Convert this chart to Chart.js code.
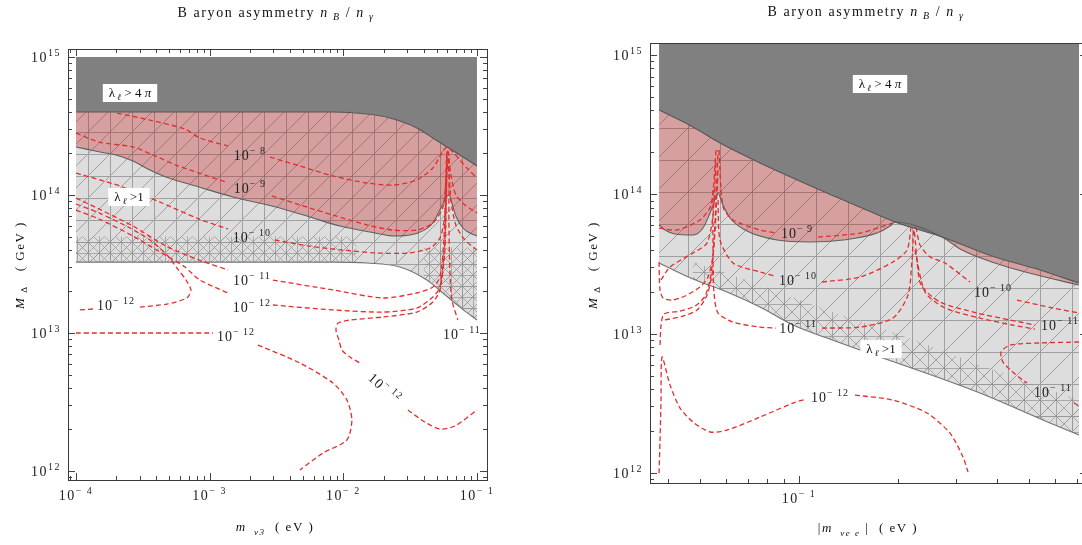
<!DOCTYPE html>
<html>
<head>
<meta charset="utf-8">
<title>Baryon asymmetry</title>
<script src="https://cdn.jsdelivr.net/npm/chart.js@4.4.1/dist/chart.umd.min.js"></script>
<style>
  html, body { margin: 0; padding: 0; background: #fff; overflow: hidden; }
  body { width: 1082px; height: 545px; position: relative; }
  canvas { position: absolute; top: 0; }
  #leftChart { left: 0; }
  #rightChart { left: 560px; }
</style>
</head>
<body>
<canvas id="leftChart" width="540" height="545"></canvas>
<canvas id="rightChart" width="540" height="545"></canvas>
<script>
// all points are [log10 m (eV), log10 M_Delta (GeV)]

// ---- left panel: m_nu3 ----
const leftTop = [[-4, 15], [-1, 15]];
const leftPerturbEdge = [[-4, 14.601], [-2.078, 14.601], [-1.823, 14.587], [-1.651, 14.558], [-1.450, 14.486],
  [-1.330, 14.413], [-1.225, 14.348], [-1.128, 14.290], [-1, 14.210]];
const leftBaryonEdge = [[-4, 14.348], [-3.820, 14.312], [-3.701, 14.290], [-3.574, 14.246], [-3.447, 14.181],
  [-3.327, 14.130], [-3.080, 14.058], [-2.826, 13.986], [-2.504, 13.913], [-2.250, 13.841], [-2.025, 13.775],
  [-1.801, 13.732], [-1.614, 13.703], [-1.442, 13.725], [-1.337, 13.790], [-1.270, 13.906], [-1.233, 13.978],
  [-1.210, 14.0], [-1.188, 13.942], [-1.158, 13.848], [-1.105, 13.761], [-1.053, 13.725], [-1, 13.703]];
const leftUnitEdge = [[-4, 13.514], [-2.078, 13.514], [-1.823, 13.507], [-1.577, 13.478], [-1.375, 13.384],
  [-1.255, 13.290], [-1.128, 13.188], [-1, 13.094]];
// finer mesh patches inside the lambda > 1 region
const leftDenseTop = [[-4, 13.700], [-1.900, 13.700]];
const leftDenseBottom = [[-4, 13.514], [-1.900, 13.514]];
const leftDenseTop2 = [[-1.400, 13.620], [-1, 13.620]];
const leftDenseBottom2 = [[-1.400, 13.410], [-1.255, 13.290], [-1.128, 13.188], [-1, 13.094]];

const left8 = [
  [[-3.693, 14.594], [-3.447, 14.543], [-3.185, 14.478], [-3.073, 14.413], [-2.863, 14.355]],
  [[-2.549, 14.275], [-2.325, 14.210], [-2.078, 14.138], [-1.823, 14.087], [-1.629, 14.072], [-1.450, 14.109],
   [-1.330, 14.196], [-1.263, 14.304], [-1.225, 14.348], [-1.188, 14.319], [-1.128, 14.254], [-1.068, 14.188], [-1, 14.123]]
];
const left9 = [
  [[-4, 14.449], [-3.828, 14.384], [-3.574, 14.348], [-3.424, 14.290], [-3.252, 14.217], [-3.080, 14.159], [-2.878, 14.094]],
  [[-2.534, 13.993], [-2.325, 13.928], [-2.078, 13.855], [-1.823, 13.783], [-1.629, 13.746], [-1.450, 13.746],
   [-1.330, 13.797], [-1.255, 13.913], [-1.233, 14.109], [-1.218, 14.312], [-1.195, 14.145], [-1.158, 14.0],
   [-1.090, 13.928], [-1, 13.870]]
];
const left10 = [
  [[-4, 14.159], [-3.820, 14.109], [-3.671, 14.065], [-3.372, 13.949], [-3.080, 13.826], [-2.863, 13.754]],
  [[-2.512, 13.674], [-2.257, 13.630], [-2.003, 13.601], [-1.756, 13.580], [-1.509, 13.580], [-1.352, 13.616],
   [-1.277, 13.688], [-1.240, 13.855], [-1.218, 14.254], [-1.195, 13.964], [-1.158, 13.783], [-1.090, 13.674], [-1, 13.601]]
];
const left11 = [
  [[-4, 13.978], [-3.828, 13.899], [-3.574, 13.775], [-3.327, 13.630], [-3.080, 13.529], [-2.863, 13.457]],
  [[-2.527, 13.384], [-2.078, 13.312], [-1.704, 13.254], [-1.450, 13.290], [-1.330, 13.333], [-1.277, 13.406],
   [-1.248, 13.674], [-1.225, 14.326], [-1.210, 14.290], [-1.210, 13.819], [-1.203, 13.457], [-1.188, 13.239], [-1.143, 13.094]]
];
const left12 = [
  [[-4, 13.935], [-3.828, 13.870], [-3.596, 13.761], [-3.447, 13.674], [-3.319, 13.565], [-3.245, 13.471],
   [-3.177, 13.384], [-3.140, 13.312], [-3.170, 13.254], [-3.319, 13.210], [-3.521, 13.188]],
  [[-3.873, 13.174], [-3.985, 13.167]],
  [[-4, 13.891], [-3.828, 13.826], [-3.574, 13.703], [-3.372, 13.587], [-3.185, 13.478], [-3.073, 13.384], [-2.863, 13.290]],
  [[-2.527, 13.203], [-2.078, 13.167], [-1.704, 13.152], [-1.450, 13.181], [-1.330, 13.261], [-1.277, 13.333],
   [-1.240, 13.674], [-1.225, 14.312]],
  [[-4, 13], [-2.975, 13]],
  [[-2.639, 12.913], [-2.325, 12.783], [-2.078, 12.638], [-1.973, 12.514], [-1.936, 12.370], [-1.973, 12.225],
   [-2.153, 12.130], [-2.325, 12.007]],
  [[-1.225, 14.254], [-1.240, 13.601], [-1.277, 13.312], [-1.330, 13.225], [-1.450, 13.152], [-1.704, 13.116],
   [-1.951, 13.094], [-2.040, 13.072], [-2.055, 13.022], [-2.033, 12.949], [-2.010, 12.877], [-1.951, 12.826], [-1.861, 12.775]],
  [[-1.517, 12.442], [-1.390, 12.355], [-1.277, 12.304], [-1.165, 12.326], [-1, 12.442]]
];
// [log m, log M, exponent, rotation]
const leftLevelLabels = [[-2.699, 14.290, 8], [-2.699, 14.051, 9], [-2.684, 13.696, 10], [-2.684, 13.384, 11],
  [-3.701, 13.203, 12], [-2.684, 13.188, 12], [-2.803, 12.978, 12], [-1.113, 12.993, 11], [-1.689, 12.601, 12, 42]];
const leftRegionLabels = [[-3.596, 14.739, '4π'], [-3.604, 13.986, '1']];

// ---- right panel: |m_nu ee| ----
const rightPerturbEdge = [[-1.4255, 14.605], [-1.3222, 14.483], [-1.2401, 14.368], [-1.1185, 14.225], [-0.9149, 14.009],
  [-0.8085, 13.902], [-0.7082, 13.801], [-0.5653, 13.694], [-0.4043, 13.550], [-0.2675, 13.457], [-0.1489, 13.363]];
const rightBaryonEdge = [[-1.4255, 13.780], [-1.4073, 13.744], [-1.3769, 13.715], [-1.3222, 13.708], [-1.2918, 13.758],
  [-1.2705, 13.866], [-1.2523, 13.981], [-1.2462, 14.009], [-1.2340, 13.938], [-1.2097, 13.830], [-1.1641, 13.744],
  [-1.0669, 13.672], [-0.9666, 13.658], [-0.8663, 13.672], [-0.7629, 13.722], [-0.7234, 13.772], [-0.7082, 13.801],
  [-0.5653, 13.694], [-0.5046, 13.600], [-0.4043, 13.507], [-0.3009, 13.435], [-0.1489, 13.349]];
const rightUnitEdge = [[-1.4255, 13.507], [-1.3222, 13.392], [-1.2188, 13.299], [-1.1185, 13.191], [-1.0182, 13.062],
  [-0.9149, 12.968], [-0.8146, 12.882], [-0.6930, 12.782], [-0.5714, 12.681], [-0.4498, 12.574], [-0.3283, 12.452],
  [-0.2371, 12.358], [-0.1489, 12.272]];
const rightDenseTop = [[-1.3222, 13.514], [-1.1185, 13.349], [-0.9149, 13.169], [-0.6930, 12.990], [-0.4498, 12.775],
  [-0.1489, 12.523]];
const rightDenseBottom = [[-1.3222, 13.392], [-1.2188, 13.299], [-1.1185, 13.191], [-1.0182, 13.062], [-0.9149, 12.968],
  [-0.8146, 12.882], [-0.6930, 12.782], [-0.5714, 12.681], [-0.4498, 12.574], [-0.3283, 12.452], [-0.2371, 12.358],
  [-0.1489, 12.272]];

const right9 = [
  [[-1.4255, 13.758], [-1.3708, 13.744], [-1.3009, 13.816], [-1.2675, 13.923], [-1.2523, 14.318]],
  [[-1.2432, 14.318], [-1.2310, 13.909], [-1.2006, 13.816], [-1.1185, 13.744], [-1.0699, 13.722]],
  [[-0.9422, 13.693], [-0.8146, 13.722], [-0.7143, 13.794]]
];
const right10 = [
  [[-1.4194, 13.385], [-1.3921, 13.478], [-1.3222, 13.579], [-1.2796, 13.650], [-1.2614, 13.851], [-1.2523, 14.246]],
  [[-1.2462, 13.959], [-1.2401, 13.672], [-1.2006, 13.507], [-1.1185, 13.442], [-1.0729, 13.413]],
  [[-0.9301, 13.370], [-0.8146, 13.406], [-0.7143, 13.514], [-0.6717, 13.600], [-0.6596, 13.765]],
  [[-0.6444, 13.765], [-0.6322, 13.636], [-0.6018, 13.550], [-0.5562, 13.507], [-0.4802, 13.370]],
  [[-0.3374, 13.241], [-0.2280, 13.184], [-0.1489, 13.148]]
];
const right11 = [
  [[-1.4255, 13.514], [-1.4225, 13.313], [-1.4134, 13.256], [-1.3860, 13.241], [-1.3465, 13.270], [-1.3009, 13.335],
   [-1.2766, 13.406], [-1.2614, 13.564], [-1.2523, 13.959], [-1.2462, 14.318]],
  [[-1.4225, 12.918], [-1.4194, 13.062], [-1.4103, 13.141], [-1.3617, 13.162], [-1.3161, 13.198], [-1.2857, 13.270],
   [-1.2675, 13.421], [-1.2553, 13.744], [-1.2462, 14.174]],
  [[-1.4073, 13.098], [-1.3526, 13.126], [-1.3100, 13.169], [-1.2796, 13.277], [-1.2614, 13.457]],
  [[-1.2614, 14.031], [-1.2614, 13.528], [-1.2584, 13.291], [-1.2462, 13.148], [-1.2006, 13.083], [-1.1185, 13.047], [-1.0699, 13.040]],
  [[-0.9301, 13.040], [-0.8146, 13.047], [-0.7143, 13.112], [-0.6687, 13.277], [-0.6565, 13.528], [-0.6505, 13.744],
   [-0.6413, 13.528], [-0.6292, 13.349], [-0.5714, 13.227], [-0.4590, 13.148], [-0.3587, 13.098], [-0.2827, 13.062]],
  [[-0.6474, 13.600], [-0.6170, 13.299], [-0.5562, 13.184], [-0.4498, 13.112], [-0.3526, 13.062], [-0.2827, 13.033]],
  [[-0.1489, 12.940], [-0.2675, 12.933], [-0.3587, 12.918], [-0.3860, 12.868], [-0.3799, 12.796], [-0.3435, 12.710], [-0.3070, 12.645]],
  [[-0.1641, 12.502], [-0.1489, 12.480]]
];
const right12 = [
  [[-1.4255, 11.999], [-1.4225, 12.236], [-1.4194, 12.523], [-1.4164, 12.832], [-1.3921, 12.631], [-1.3617, 12.466],
   [-1.3222, 12.365], [-1.2705, 12.294], [-1.2188, 12.308], [-1.1185, 12.401], [-1.0182, 12.502], [-0.9787, 12.530]],
  [[-0.8298, 12.559], [-0.7143, 12.523], [-0.6109, 12.430], [-0.5410, 12.286], [-0.5015, 12.114], [-0.4863, 12.007]]
];
const rightLevelLabels = [[-1.0061, 13.722, 9], [-1.003, 13.385, 10], [-1.003, 13.040, 11], [-0.9058, 12.545, 12],
  [-0.4103, 13.299, 10], [-0.2067, 13.062, 11], [-0.2280, 12.581, 11]];
const rightRegionLabels = [[-0.7538, 14.792, '4π'], [-0.7508, 12.889, '1']];

// ---- helpers ----
const SERIF = '"Liberation Serif", "Times New Roman", serif';
const font = (size, style) => (style ? style + ' ' : '') + size + 'px ' + SERIF;
const MINUS = '\u2212';
const RED = 'rgb(229,45,45)';
const CLEAR = 'rgba(0,0,0,0)';

function toPoints(arr) {
  return arr.map(p => ({ x: Math.pow(10, p[0]), y: Math.pow(10, p[1]) }));
}

function meshPattern(canvasId, bg, line, size, cross) {
  const c = document.createElement('canvas');
  c.width = size; c.height = size;
  const g = c.getContext('2d');
  g.fillStyle = bg;
  g.fillRect(0, 0, size, size);
  g.strokeStyle = line;
  g.lineWidth = 1;
  g.beginPath();
  g.moveTo(0.5, 0); g.lineTo(0.5, size);
  g.moveTo(0, 0.5); g.lineTo(size, 0.5);
  g.moveTo(0, size); g.lineTo(size, 0);
  if (cross) { g.moveTo(0, 0); g.lineTo(size, size); }
  g.stroke();
  return document.getElementById(canvasId).getContext('2d').createPattern(c, 'repeat');
}

function drawParts(ctx, parts, x, y, align, spacing) {
  ctx.letterSpacing = (spacing || 0) + 'px';
  let w = 0;
  parts.forEach(p => { ctx.font = p.f; w += ctx.measureText(p.t).width; });
  let cx = align === 'center' ? x - w / 2 : align === 'right' ? x - w : x;
  parts.forEach(p => {
    ctx.font = p.f;
    ctx.fillText(p.t, cx, y + (p.dy || 0));
    cx += ctx.measureText(p.t).width;
  });
  ctx.letterSpacing = '0px';
  return w;
}

function powParts(e, size) {
  const exp = e < 0 ? MINUS + ' ' + (-e) : String(e);
  return [{ t: '10', f: font(size) }, { t: exp, f: font(size - 4), dy: -Math.round(size * 0.45) }];
}

function logValues(min, max) {
  const out = [];
  for (let e = Math.floor(Math.log10(min)); e <= Math.ceil(Math.log10(max)); e++) {
    for (let m = 1; m < 10; m++) {
      const v = m * Math.pow(10, e);
      if (v >= min && v <= max) out.push([v, m === 1]);
    }
  }
  return out;
}

function regionSet(points, fill, bg, edge, order) {
  return { data: toPoints(points), fill: fill, backgroundColor: bg, borderColor: edge || CLEAR,
    borderWidth: edge ? 1.1 : 0, pointRadius: 0, cubicInterpolationMode: 'monotone', order: order || 0 };
}

function contourSets(groups) {
  return groups.map(seg => ({ data: toPoints(seg), fill: false, borderColor: RED, borderWidth: 1.3,
    borderDash: [5, 3], tension: 0.25, pointRadius: 0, order: -5 }));
}

function makeDecor(cfg) {
  return {
    id: 'decor',
    beforeDraw(chart) {
      const { ctx, chartArea: a, scales: { x, y } } = chart;
      ctx.save();
      ctx.strokeStyle = '#444';
      ctx.lineWidth = 1;
      ctx.beginPath();
      logValues(x.min, x.max).forEach(([v, major]) => {
        const px = Math.round(x.getPixelForValue(v)) + 0.5;
        const len = major ? 7 : 4;
        ctx.moveTo(px, a.bottom); ctx.lineTo(px, a.bottom - len);
        ctx.moveTo(px, a.top); ctx.lineTo(px, a.top + len);
      });
      logValues(y.min, y.max).forEach(([v, major]) => {
        const py = Math.round(y.getPixelForValue(v)) + 0.5;
        const len = major ? 7 : 4;
        ctx.moveTo(a.left, py); ctx.lineTo(a.left + len, py);
        ctx.moveTo(a.right, py); ctx.lineTo(a.right - len, py);
      });
      ctx.stroke();
      ctx.restore();
    },
    afterDatasetsDraw(chart) {
      const { ctx, chartArea: a, scales: { x, y } } = chart;
      const X = lx => x.getPixelForValue(Math.pow(10, lx));
      const Y = ly => y.getPixelForValue(Math.pow(10, ly));
      ctx.save();
      ctx.textAlign = 'left';
      ctx.textBaseline = 'alphabetic';

      // frame
      ctx.strokeStyle = '#3a3a3a';
      ctx.lineWidth = 1;
      ctx.strokeRect(Math.round(a.left) + 0.5, Math.round(a.top) + 0.5,
        Math.round(a.right - a.left), Math.round(a.bottom - a.top));

      // contour labels
      ctx.fillStyle = '#222';
      cfg.levels.forEach(([lx, ly, n, rot]) => {
        ctx.save();
        ctx.translate(X(lx), Y(ly));
        if (rot) ctx.rotate(rot * Math.PI / 180);
        drawParts(ctx, powParts(-n, 14), 0, 5, 'center', 1);
        ctx.restore();
      });

      // region labels
      cfg.regions.forEach(([lx, ly, rhs]) => {
        const parts = [{ t: 'λ', f: font(13) }, { t: ' ℓ', f: font(9, 'italic'), dy: 3 }];
        if (rhs === '4π') {
          parts.push({ t: ' > 4 ', f: font(13) }, { t: 'π', f: font(13, 'italic') });
        } else {
          parts.push({ t: ' >1', f: font(13) });
        }
        let w = 0;
        parts.forEach(p => { ctx.font = p.f; w += ctx.measureText(p.t).width; });
        const cx = X(lx), cy = Y(ly);
        ctx.fillStyle = '#fff';
        ctx.fillRect(cx - w / 2 - 6, cy - 9, w + 12, 18);
        ctx.fillStyle = '#111';
        drawParts(ctx, parts, cx, cy + 4, 'center');
      });

      // tick labels
      ctx.fillStyle = '#222';
      cfg.xTicks.forEach(e => drawParts(ctx, powParts(e, 14), X(e), a.bottom + 20, 'center', 1.5));
      cfg.yTicks.forEach(e => drawParts(ctx, powParts(e, 14), a.left - 7, Y(e) + 5, 'right', 1.5));

      // title
      ctx.fillStyle = '#111';
      drawParts(ctx, [
        { t: 'B aryon asymmetry ', f: font(14) },
        { t: 'n', f: font(14, 'italic') }, { t: ' B', f: font(10, 'italic'), dy: 3 },
        { t: ' / ', f: font(14) },
        { t: 'n', f: font(14, 'italic') }, { t: ' γ', f: font(10, 'italic'), dy: 3 }
      ], cfg.title[0], cfg.title[1], 'center', 1.6);

      // x axis title
      drawParts(ctx, cfg.xTitleParts, cfg.xTitle[0], cfg.xTitle[1], 'center', 1.5);

      // y axis title
      ctx.save();
      ctx.translate(cfg.yTitle[0], cfg.yTitle[1]);
      ctx.rotate(-Math.PI / 2);
      drawParts(ctx, [
        { t: 'M', f: font(13, 'italic') }, { t: ' Δ', f: font(9), dy: 3 },
        { t: '   ( GeV )', f: font(13) }
      ], 0, 4, 'center', 1.5);
      ctx.restore();

      ctx.restore();
    }
  };
}

function buildChart(id, cfg) {
  const hidden = () => ({ ticks: { display: false }, grid: { display: false }, border: { display: false } });
  return new Chart(document.getElementById(id), {
    type: 'line',
    data: { datasets: cfg.datasets },
    options: {
      responsive: false,
      animation: false,
      events: [],
      layout: { padding: cfg.padding },
      plugins: { legend: { display: false }, tooltip: { enabled: false }, filler: { drawTime: 'beforeDatasetsDraw' } },
      scales: {
        x: Object.assign({ type: 'logarithmic', min: Math.pow(10, cfg.xRange[0]), max: Math.pow(10, cfg.xRange[1]),
          afterFit: s => { s.height = cfg.xHeight; } }, hidden()),
        y: Object.assign({ type: 'logarithmic', min: Math.pow(10, cfg.yRange[0]), max: Math.pow(10, cfg.yRange[1]),
          afterFit: s => { s.width = cfg.yWidth; } }, hidden())
      }
    },
    plugins: [makeDecor(cfg)]
  });
}

// ---- left chart ----
const leftPink = meshPattern('leftChart', 'rgb(215,160,160)', 'rgba(150,105,105,0.75)', 22);
const leftGrey = meshPattern('leftChart', 'rgb(221,221,221)', 'rgb(160,160,160)', 22);
const leftFine = meshPattern('leftChart', CLEAR, 'rgba(150,150,150,0.75)', 11, true);
buildChart('leftChart', {
  padding: { top: 49, right: 53, bottom: 0, left: 0 },
  xHeight: 65, yWidth: 68,
  xRange: [-4.060, -0.925], yRange: [11.935, 15.058],
  datasets: [
    regionSet(leftTop, false, CLEAR, null),
    regionSet(leftPerturbEdge, '-1', 'rgb(128,128,128)', 'rgb(85,85,85)'),
    regionSet(leftBaryonEdge, '-1', leftPink, 'rgb(95,95,95)'),
    regionSet(leftUnitEdge, '-1', leftGrey, 'rgb(115,115,115)'),
    regionSet(leftDenseTop, false, CLEAR, null),
    regionSet(leftDenseBottom, '-1', leftFine, null, -1),
    regionSet(leftDenseTop2, false, CLEAR, null),
    regionSet(leftDenseBottom2, '-1', leftFine, null, -1),
    ...contourSets(left8), ...contourSets(left9), ...contourSets(left10),
    ...contourSets(left11), ...contourSets(left12)
  ],
  levels: leftLevelLabels,
  regions: leftRegionLabels,
  xTicks: [-4, -3, -2, -1],
  yTicks: [12, 13, 14, 15],
  title: [276, 17],
  xTitle: [275, 531],
  xTitleParts: [{ t: 'm', f: font(13, 'italic') }, { t: '  ν3', f: font(9, 'italic'), dy: 4 }, { t: '  ( eV )', f: font(13) }],
  yTitle: [20, 265]
});

// ---- right chart ----
const rightPink = meshPattern('rightChart', 'rgb(215,160,160)', 'rgba(150,105,105,0.75)', 32);
const rightGrey = meshPattern('rightChart', 'rgb(221,221,221)', 'rgb(160,160,160)', 32);
const rightFine = meshPattern('rightChart', CLEAR, 'rgba(150,150,150,0.75)', 16, true);
buildChart('rightChart', {
  padding: { top: 43, right: 13, bottom: 0, left: 0 },
  xHeight: 62, yWidth: 90,
  xRange: [-1.453, -0.1246], yRange: [11.928, 15.086],
  datasets: [
    regionSet(rightPerturbEdge, 'end', 'rgb(128,128,128)', 'rgb(85,85,85)'),
    regionSet(rightBaryonEdge, '-1', rightPink, 'rgb(95,95,95)'),
    regionSet(rightUnitEdge, '-1', rightGrey, 'rgb(115,115,115)'),
    regionSet(rightDenseTop, false, CLEAR, null),
    regionSet(rightDenseBottom, '-1', rightFine, null, -1),
    ...contourSets(right9), ...contourSets(right10), ...contourSets(right11), ...contourSets(right12)
  ],
  levels: rightLevelLabels,
  regions: rightRegionLabels,
  xTicks: [-1],
  yTicks: [12, 13, 14, 15],
  title: [306, 16],
  xTitle: [308, 532],
  xTitleParts: [{ t: '|', f: font(13) }, { t: 'm', f: font(13, 'italic') }, { t: '  νe e', f: font(9, 'italic'), dy: 4 },
    { t: ' |  ( eV )', f: font(13) }],
  yTitle: [33, 265]
});
</script>
</body>
</html>
